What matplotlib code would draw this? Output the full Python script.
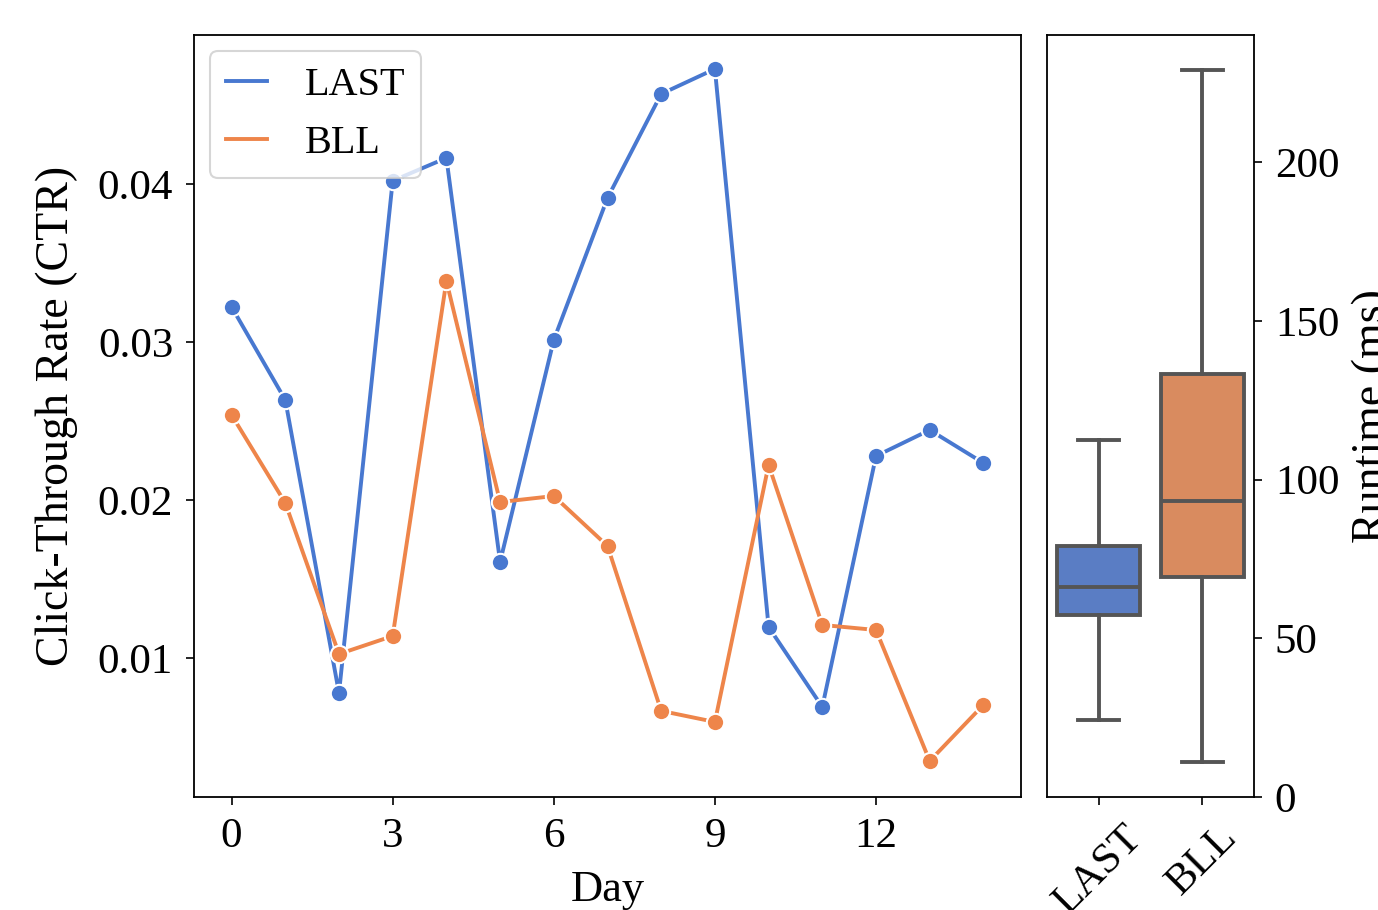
import matplotlib
matplotlib.use("Agg")
import matplotlib.pyplot as plt
from matplotlib.lines import Line2D

days = list(range(15))
ctr_last = [0.03222, 0.02633, 0.00778, 0.0402, 0.04165, 0.01608, 0.03013, 0.03911,
            0.04570, 0.04728, 0.01196, 0.00690, 0.02278, 0.02443, 0.02234]
ctr_bll = [0.02538, 0.01981, 0.01025, 0.01139, 0.03386, 0.01987, 0.02025, 0.01709,
           0.00665, 0.00595, 0.02222, 0.01209, 0.01177, 0.00348, 0.00703]

methods = ["LAST", "BLL"]
rt_low = [24.3, 11.0]
rt_q1 = [57.3, 69.3]
rt_med = [66.1, 93.2]
rt_q3 = [79.1, 133.2]
rt_high = [112.4, 229.0]

line_colors = ["#4878d0", "#ee854a"]
box_colors = ["#5a7dc4", "#d98b5f"]
gray = "#555555"

plt.rcParams["font.family"] = ["Liberation Serif", "DejaVu Serif"]
plt.rcParams["font.size"] = 31

fig = plt.figure(figsize=(13.78, 9.10), dpi=100)
W, H = 1378, 910
ax = fig.add_axes([194 / W, (H - 797) / H, (1021 - 194) / W, (797 - 35) / H])
bx = fig.add_axes([1047 / W, (H - 797) / H, (1254 - 1047) / W, (797 - 35) / H])

for vals, c in zip([ctr_last, ctr_bll], line_colors):
    ax.plot(days, vals, color=c, lw=2.8, marker="o", markersize=12.5,
            markeredgecolor="white", markeredgewidth=1.5)
ax.set_ylim(0.0012, 0.04943)
ax.set_xticks([0, 3, 6, 9, 12])
ax.set_yticks([0.01, 0.02, 0.03, 0.04])
ax.set_xlabel("Day", fontsize=32, labelpad=10)
ax.set_ylabel("Click-Through Rate (CTR)", fontsize=33, labelpad=14)
ax.tick_params(length=6, width=1.2, pad=9)
for s in ax.spines.values():
    s.set_linewidth(1.3)
handles = [Line2D([], [], color=c, lw=2.8) for c in line_colors]
leg = ax.legend(handles, methods, loc="upper left", frameon=True, fancybox=True,
                handlelength=1.0, handletextpad=0.95, borderpad=0.4, labelspacing=0.5,
                fontsize=29, borderaxespad=0.4)
leg.get_frame().set_edgecolor("#cccccc")
leg.get_frame().set_linewidth(1.5)

stats = []
for i, m in enumerate(methods):
    stats.append(dict(label=m, whislo=rt_low[i], q1=rt_q1[i], med=rt_med[i],
                      q3=rt_q3[i], whishi=rt_high[i], fliers=[]))
bp = bx.bxp(stats, positions=[0, 1], widths=0.8, patch_artist=True, showfliers=False,
            boxprops=dict(linewidth=2.8, edgecolor=gray),
            medianprops=dict(color=gray, linewidth=2.8),
            whiskerprops=dict(color=gray, linewidth=2.8),
            capprops=dict(color=gray, linewidth=2.8))
for p, c in zip(bp["boxes"], box_colors):
    p.set_facecolor(c)
for cap in bp["caps"]:
    x = cap.get_xdata()
    mid = (x[0] + x[1]) / 2
    cap.set_xdata([mid - 0.2, mid + 0.2])
bx.set_xlim(-0.5, 1.5)
bx.set_ylim(0, 240)
bx.set_yticks([0, 50, 100, 150, 200])
bx.yaxis.tick_right()
bx.yaxis.set_label_position("right")
bx.set_ylabel("Runtime (ms)", fontsize=33, labelpad=9)
bx.set_xticks([0, 1])
bx.set_xticklabels(methods, rotation=45, ha="center")
bx.tick_params(length=6, width=1.2, pad=9)
for s in bx.spines.values():
    s.set_linewidth(1.3)

fig.savefig("out.png", dpi=100)
